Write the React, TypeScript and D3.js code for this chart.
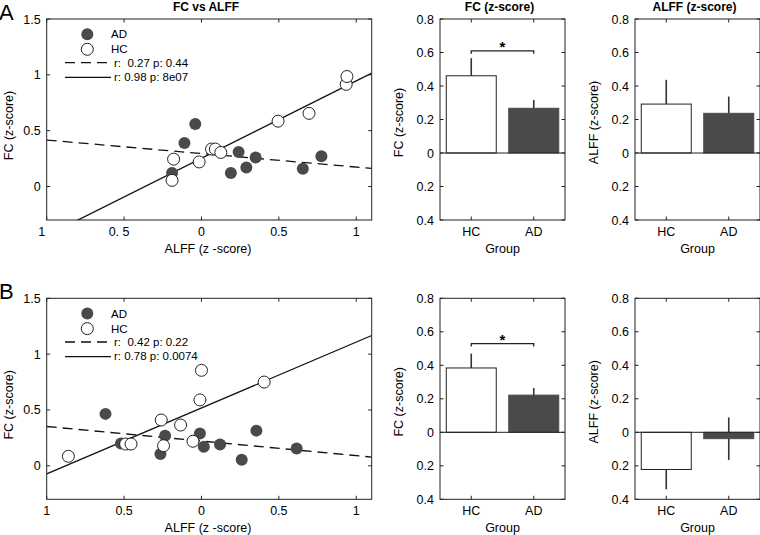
import React from 'react';
import * as d3 from 'd3';

// scatter data, row A
const adAx = [-0.19, -0.11, -0.04, 0.19, 0.24, 0.29, 0.35, 0.655, 0.775];
const adAy = [0.12, 0.39, 0.56, 0.12, 0.31, 0.17, 0.26, 0.16, 0.27];
const hcAx = [-0.18, -0.19, -0.015, 0.065, 0.09, 0.125, 0.495, 0.695, 0.935, 0.94];
const hcAy = [0.245, 0.055, 0.22, 0.335, 0.335, 0.305, 0.585, 0.655, 0.915, 0.985];
// fit lines [intercept, slope]
const fitAdA = [0.295, -0.121];
const fitHcA = [0.253, 0.693];
const legendA = ['r:  0.27 p: 0.44', 'r: 0.98 p: 8e07'];
const xTicksA = ['1', '0. 5', '0', '0.5', '1'];

// scatter data, row B
const adBx = [-0.62, -0.52, -0.265, -0.235, -0.01, 0.015, 0.12, 0.26, 0.355, 0.615];
const adBy = [0.465, 0.2, 0.105, 0.27, 0.29, 0.17, 0.19, 0.055, 0.315, 0.155];
const hcBx = [-0.86, -0.49, -0.455, -0.26, -0.245, -0.135, -0.055, -0.01, 0.0, 0.405];
const hcBy = [0.085, 0.195, 0.195, 0.41, 0.18, 0.365, 0.22, 0.59, 0.855, 0.75];
const fitAdB = [0.2215, -0.1305];
const fitHcB = [0.518, 0.59];
const legendB = ['r:  0.42 p: 0.22', 'r: 0.78 p: 0.0074'];
const xTicksB = ['1', '0.5', '0', '0.5', '1'];

const xTickVals = [-1, -0.5, 0, 0.5, 1];
const yTickValsS = [0, 0.5, 1, 1.5];
const yTickLabelsS = ['0', '0.5', '1', '1.5'];

// bars
const groups = ['HC', 'AD'];
const fcA = [0.461, 0.267];
const fcAsem = [0.105, 0.05];
const alffA = [0.292, 0.237];
const alffAsem = [0.145, 0.1];
const fcB = [0.384, 0.222];
const fcBsem = [0.086, 0.042];
const alffB = [-0.222, -0.038];
const alffBsem = [0.118, 0.127];
const yTickValsB = [-0.4, -0.2, 0, 0.2, 0.4, 0.6, 0.8];
const yTickLabelsB = ['0.4', '0.2', '0', '0.2', '0.4', '0.6', '0.8'];

const FONT = '"Liberation Sans", Arial, Helvetica, sans-serif';
const DARK = '#4a4a4a';
const AXIS = '#222';

const PH = 201;

function Scatter({ top, id, adx, ady, hcx, hcy, fitAd, fitHc, legend, xLabels, title }: any) {
  const left = 46.7;
  const right = 371.7;
  const x = d3.scaleLinear().domain([-1, 1.1]).range([left, right]);
  const y = d3.scaleLinear().domain([-0.3, 1.5]).range([top + PH, top]);
  const line = d3.line<number>().x(v => x(v)).y(v => y(v));
  const fitPath = (f: number[]) => line.y(v => y(f[0] + f[1] * v))([-1, 1.1]) || '';
  const tk = 3.5;
  return (
    <g fontFamily={FONT}>
      <defs>
        <clipPath id={id}>
          <rect x={left} y={top} width={right - left} height={PH} />
        </clipPath>
      </defs>
      {title && (
        <text x={206} y={top - 8} textAnchor="middle" fontSize={12} fontWeight="bold">{title}</text>
      )}
      {/* ticks */}
      {xTickVals.map((v, i) => (
        <g key={'x' + i}>
          <line x1={x(v)} x2={x(v)} y1={top + PH} y2={top + PH - tk} stroke={AXIS} />
          <line x1={x(v)} x2={x(v)} y1={top} y2={top + tk} stroke={AXIS} />
          <text x={x(v) + (v < 0 && title ? -5 : 0)} y={top + PH + 16} textAnchor="middle" fontSize={12.5}
            style={{ whiteSpace: 'pre' }}>{xLabels[i]}</text>
        </g>
      ))}
      {yTickValsS.map((v, i) => (
        <g key={'y' + i}>
          <line x1={left} x2={left + tk} y1={y(v)} y2={y(v)} stroke={AXIS} />
          <line x1={right} x2={right - tk} y1={y(v)} y2={y(v)} stroke={AXIS} />
          <text x={left - 6} y={y(v) + 4.5} textAnchor="end" fontSize={12.5}>{yTickLabelsS[i]}</text>
        </g>
      ))}
      <g clipPath={`url(#${id})`}>
        <path d={fitPath(fitAd)} fill="none" stroke="#111" strokeWidth={1.3} strokeDasharray="10,6" />
        <path d={fitPath(fitHc)} fill="none" stroke="#111" strokeWidth={1.3} />
        {adx.map((v: number, i: number) => (
          <circle key={'a' + i} cx={x(v)} cy={y(ady[i])} r={6} fill={DARK} />
        ))}
        {hcx.map((v: number, i: number) => (
          <circle key={'h' + i} cx={x(v)} cy={y(hcy[i])} r={6} fill="white" stroke="#222" strokeWidth={1} />
        ))}
      </g>
      <rect x={left} y={top} width={right - left} height={PH} fill="none" stroke={AXIS} strokeWidth={1} />
      {/* legend */}
      <circle cx={87.3} cy={top + 15.3} r={6} fill={DARK} />
      <circle cx={87.3} cy={top + 30.3} r={6} fill="white" stroke="#222" />
      <text x={111} y={top + 19.3} fontSize={11.5}>AD</text>
      <text x={111} y={top + 34.3} fontSize={11.5}>HC</text>
      <line x1={65} x2={111} y1={top + 43.7} y2={top + 43.7} stroke="#111" strokeWidth={1.3} strokeDasharray="10,6" />
      <line x1={65} x2={111} y1={top + 58.3} y2={top + 58.3} stroke="#111" strokeWidth={1.3} />
      <text x={114} y={top + 47.5} fontSize={11.5} style={{ whiteSpace: 'pre' }}>{legend[0]}</text>
      <text x={114} y={top + 62} fontSize={11.5} style={{ whiteSpace: 'pre' }}>{legend[1]}</text>
      <text x={208} y={top + PH + 33} textAnchor="middle" fontSize={12.5}>ALFF (z -score)</text>
      <text transform={`translate(13,${top + PH / 2 + 6}) rotate(-90)`} textAnchor="middle" fontSize={12.5}>FC (z-score)</text>
    </g>
  );
}

function Bars({ left, top, means, sems, title, ylabel, sig }: any) {
  const w = 125;
  const x = d3.scaleLinear().domain([0.5, 2.5]).range([left, left + w]);
  const y = d3.scaleLinear().domain([-0.4, 0.8]).range([top + PH, top]);
  const bw = x(1.4) - x(1);
  const tk = 3.5;
  const fills = ['white', DARK];
  const strokes = ['#222', DARK];
  return (
    <g fontFamily={FONT}>
      {title && (
        <text x={left + w / 2 - 3} y={top - 8} textAnchor="middle" fontSize={12} fontWeight="bold">{title}</text>
      )}
      {yTickValsB.map((v, i) => (
        <g key={'y' + i}>
          <line x1={left} x2={left + tk} y1={y(v)} y2={y(v)} stroke={AXIS} />
          <line x1={left + w} x2={left + w - tk} y1={y(v)} y2={y(v)} stroke={AXIS} />
          <text x={left - 6} y={y(v) + 4.5} textAnchor="end" fontSize={12.5}>{yTickLabelsB[i]}</text>
        </g>
      ))}
      {groups.map((g, i) => (
        <g key={g}>
          <line x1={x(i + 1)} x2={x(i + 1)} y1={top + PH} y2={top + PH - tk} stroke={AXIS} />
          <line x1={x(i + 1)} x2={x(i + 1)} y1={top} y2={top + tk} stroke={AXIS} />
          <text x={x(i + 1)} y={top + PH + 16} textAnchor="middle" fontSize={12.5}>{g}</text>
          <line x1={x(i + 1)} x2={x(i + 1)} y1={y(means[i] - sems[i])} y2={y(means[i] + sems[i])} stroke="#333" strokeWidth={1.6} />
          <rect x={x(i + 1) - bw} y={Math.min(y(0), y(means[i]))} width={2 * bw} height={Math.abs(y(means[i]) - y(0))}
            fill={fills[i]} stroke={strokes[i]} strokeWidth={1} />
        </g>
      ))}
      <line x1={left} x2={left + w} y1={y(0)} y2={y(0)} stroke={AXIS} strokeWidth={1} />
      {sig && (
        <g>
          <path d={`M${x(1)},${y(sig) + 3}V${y(sig)}H${x(2)}V${y(sig) + 3}`} fill="none" stroke="#222" strokeWidth={1.3} />
          <text x={(x(1) + x(2)) / 2} y={y(sig) + 1} textAnchor="middle" fontSize={15} fontWeight="bold">*</text>
        </g>
      )}
      <rect x={left} y={top} width={w} height={PH} fill="none" stroke={AXIS} strokeWidth={1} />
      <text x={left + w / 2} y={top + PH + 33} textAnchor="middle" fontSize={12.5}>Group</text>
      <text transform={`translate(${left - 37},${top + PH / 2 + 3}) rotate(-90)`} textAnchor="middle" fontSize={12.5}>{ylabel}</text>
    </g>
  );
}

export default function App() {
  const topA = 19;
  const topB = 298.3;
  return (
    <svg width={760} height={535} style={{ position: 'absolute', left: 0, top: 0, background: 'white' }}>
      <rect width={760} height={535} fill="white" />
      <text x={-1} y={20} fontFamily={FONT} fontSize={22}>A</text>
      <text x={-1} y={299} fontFamily={FONT} fontSize={22}>B</text>
      <Scatter top={topA} id="clipA" adx={adAx} ady={adAy} hcx={hcAx} hcy={hcAy} fitAd={fitAdA} fitHc={fitHcA}
        legend={legendA} xLabels={xTicksA} title="FC vs ALFF" />
      <Scatter top={topB} id="clipB" adx={adBx} ady={adBy} hcx={hcBx} hcy={hcBy} fitAd={fitAdB} fitHc={fitHcB}
        legend={legendB} xLabels={xTicksB} />
      <Bars left={440} top={topA} means={fcA} sems={fcAsem} title="FC (z-score)" ylabel="FC (z-score)" sig={0.61} />
      <Bars left={635} top={topA} means={alffA} sems={alffAsem} title="ALFF (z-score)" ylabel="ALFF (z-score)" />
      <Bars left={440} top={topB} means={fcB} sems={fcBsem} ylabel="FC (z-score)" sig={0.53} />
      <Bars left={635} top={topB} means={alffB} sems={alffBsem} ylabel="ALFF (z-score)" />
    </svg>
  );
}
